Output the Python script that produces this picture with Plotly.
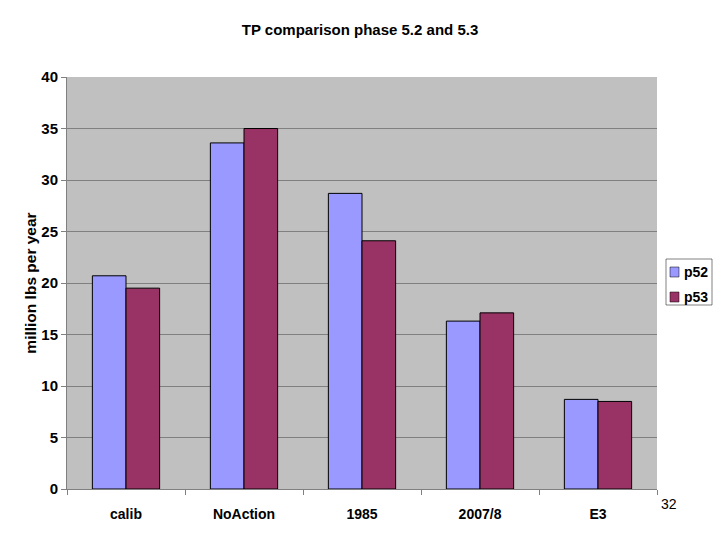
import plotly.graph_objects as go

categories = ["calib", "NoAction", "1985", "2007/8", "E3"]
p52 = [20.7, 33.6, 28.7, 16.3, 8.7]
p53 = [19.5, 35.0, 24.1, 17.1, 8.5]
y_ticks = [0, 5, 10, 15, 20, 25, 30, 35, 40]
series_names = ["p52", "p53"]
series_colors = ["#9999FF", "#993366"]

font = "Liberation Sans, Arial, sans-serif"
fig = go.Figure()
for name, vals, col in zip(series_names, [p52, p53], series_colors):
    fig.add_trace(go.Bar(name=name, x=categories, y=vals,
                         marker=dict(color=col, line=dict(color="#000000", width=1))))

# plot area in pixels
L, R, T, B = 67, 657, 77, 489
W, H = R - L, B - T
def px(x): return (x - L) / W
def py(y): return (B - y) / H

shapes = [dict(type="rect", xref="paper", yref="paper", x0=px(666), x1=px(712), y0=py(305), y1=py(259),
               line=dict(color="#000000", width=0.5), fillcolor="white", layer="above")]
annotations = []
for i, (name, col) in enumerate(zip(series_names, series_colors)):
    top = 267 + 25 * i
    shapes.append(dict(type="rect", xref="paper", yref="paper", x0=px(670), x1=px(679), y0=py(top + 10), y1=py(top),
                       line=dict(color="#000000", width=0.5), fillcolor=col, layer="above"))
    annotations.append(dict(text=name, xref="paper", yref="paper", x=px(682), y=py(top + 5), xanchor="left",
                            yanchor="middle", showarrow=False, font=dict(size=14, weight="bold")))
annotations.append(dict(text="32", xref="paper", yref="paper", x=px(669), y=py(504), xanchor="center",
                        yanchor="middle", showarrow=False, font=dict(size=14)))

fig.update_layout(
    width=720, height=540,
    margin=dict(l=L, r=720 - R, t=T, b=540 - B, autoexpand=False),
    paper_bgcolor="white", plot_bgcolor="#C0C0C0",
    barmode="group", bargap=0.43, bargroupgap=0,
    font=dict(family=font, color="black"),
    title=dict(text="TP comparison phase 5.2 and 5.3", x=0.5, xanchor="center", y=0.945, yanchor="middle",
               font=dict(size=15, weight="bold")),
    showlegend=False,
    shapes=shapes, annotations=annotations,
    xaxis=dict(showline=True, linecolor="#808080", tickfont=dict(size=14, weight="bold"),
               ticks="outside", tickson="boundaries", ticklen=5, tickcolor="#808080", ticklabelstandoff=12),
    yaxis=dict(range=[0, 40], tickvals=y_ticks, showgrid=True, gridcolor="#808080", gridwidth=0.5,
               showline=True, linecolor="#808080", ticks="outside", ticklen=5, tickcolor="#808080",
               tickfont=dict(size=15, weight="bold"),
               title=dict(text="million lbs per year", font=dict(size=15.5, weight="bold"), standoff=0), zeroline=False),
)
fig.write_html("out.html", post_script="document.body.style.margin='0';", config={"displayModeBar": False})
